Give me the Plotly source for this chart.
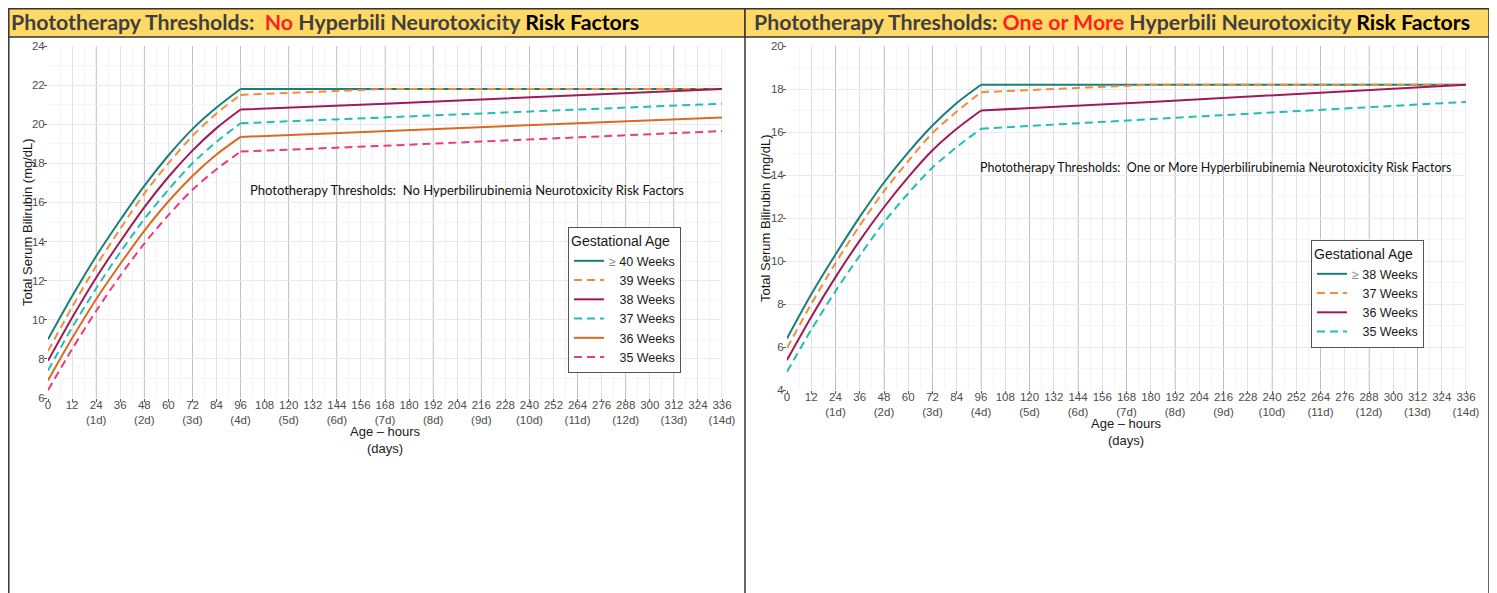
import plotly.graph_objects as go

# page body has an 8px margin; the figure is sized/shifted to compensate
OFF = 8
W, H = 1497 - OFF, 593 - OFF

# ---------------- data ----------------
left_hours = [0, 12, 24, 36, 48, 60, 72, 84, 96, 168, 336]
left_ge40 = [9.0, 11.2, 13.25, 15.1, 16.85, 18.4, 19.75, 20.85, 21.8, 21.8, 21.8]
left_w39 = [8.4, 10.65, 12.75, 14.65, 16.45, 18.0, 19.4, 20.55, 21.5, 21.8, 21.8]
left_w38 = [7.9, 10.1, 12.15, 14.0, 15.75, 17.3, 18.65, 19.8, 20.75, 21.05, 21.8]
left_w37 = [7.4, 9.6, 11.6, 13.45, 15.15, 16.65, 18.0, 19.1, 20.05, 20.35, 21.05]
left_w36 = [6.9, 9.05, 11.05, 12.85, 14.55, 16.05, 17.35, 18.45, 19.35, 19.65, 20.35]
left_w35 = [6.4, 8.5, 10.45, 12.25, 13.9, 15.35, 16.65, 17.7, 18.6, 18.9, 19.65]

right_hours = [0, 12, 24, 36, 48, 60, 72, 84, 96, 180, 336]
right_ge38 = [6.4, 8.45, 10.3, 12.05, 13.65, 15.05, 16.3, 17.35, 18.2, 18.2, 18.2]
right_w37 = [5.95, 8.0, 9.9, 11.65, 13.25, 14.65, 15.95, 16.95, 17.85, 18.2, 18.2]
right_w36 = [5.4, 7.4, 9.25, 10.95, 12.5, 13.9, 15.15, 16.15, 17.0, 17.4, 18.2]
right_w35 = [4.85, 6.8, 8.6, 10.25, 11.8, 13.15, 14.35, 15.3, 16.15, 16.6, 17.4]

GE = "<span style='color:#8A8A8A'>\u2265</span> "
FS = "\u2007\u00a0"
left_labels = [GE + "40 Weeks", FS + "39 Weeks", FS + "38 Weeks",
               FS + "37 Weeks", FS + "36 Weeks", FS + "35 Weeks"]
right_labels = [GE + "38 Weeks", FS + "37 Weeks", FS + "36 Weeks", FS + "35 Weeks"]

x_tick_hours = list(range(0, 337, 12))
x_tick_text = [f"{h}<br>({h // 24}d)" if h % 24 == 0 and h > 0 else str(h) for h in x_tick_hours]
day_hours = list(range(24, 337, 24))
KNEE = 8  # index of hour 96 in the hour lists

TEAL = "#17807A"
ORANGE_D = "#F48C3A"
MAROON = "#A01B55"
CYAN = "#22BDB7"
ORANGE_S = "#D96A22"
PINK = "#EE3A7A"

DASH = "8px,5px"
left_styles = [(TEAL, "solid"), (ORANGE_D, DASH), (MAROON, "solid"),
               (CYAN, DASH), (ORANGE_S, "solid"), (PINK, DASH)]
right_styles = [(TEAL, "solid"), (ORANGE_D, DASH), (MAROON, "solid"), (CYAN, DASH)]


def px(x):
    return (x - OFF) / W


def py(y):
    return 1 - (y - OFF) / H


fig = go.Figure()


def add_series(hours, vals, lab, col, dash, xa, ya, leg, grp):
    fig.add_trace(go.Scatter(x=hours[:KNEE + 1], y=vals[:KNEE + 1], mode="lines", name=lab,
                             line=dict(color=col, width=2, dash=dash, shape="spline", smoothing=0.8),
                             xaxis=xa, yaxis=ya, legend=leg, legendgroup=grp, hoverinfo="skip"))
    fig.add_trace(go.Scatter(x=hours[KNEE:], y=vals[KNEE:], mode="lines", name=lab,
                             line=dict(color=col, width=2, dash=dash),
                             xaxis=xa, yaxis=ya, legend=leg, legendgroup=grp, showlegend=False,
                             hoverinfo="skip"))


for i, (vals, lab, (col, dash)) in enumerate(zip(
        [left_ge40, left_w39, left_w38, left_w37, left_w36, left_w35], left_labels, left_styles)):
    add_series(left_hours, vals, lab, col, dash, "x", "y", "legend", f"L{i}")

for i, (vals, lab, (col, dash)) in enumerate(zip(
        [right_ge38, right_w37, right_w36, right_w35], right_labels, right_styles)):
    add_series(right_hours, vals, lab, col, dash, "x2", "y2", "legend2", f"R{i}")

tickfont = dict(family="Liberation Sans, Arial, sans-serif", size=11.5, color="#4D4D4D")
common_x = dict(range=[0, 336], tickvals=x_tick_hours, ticktext=x_tick_text, tickangle=0,
                showgrid=True, gridcolor="rgba(0,0,0,0.075)", gridwidth=1,
                minor=dict(dtick=6, tick0=0, showgrid=True, gridcolor="rgba(0,0,0,0.045)",
                           gridwidth=1, ticks=""),
                ticks="outside", ticklen=3, tickcolor="#555", tickfont=tickfont,
                ticklabelstandoff=-7,
                zeroline=False, showline=False, fixedrange=True, automargin=False)
common_y = dict(dtick=2, showgrid=True, gridcolor="#EBEBEB", gridwidth=1,
                minor=dict(dtick=1, showgrid=True, gridcolor="#F5F5F5", gridwidth=1, ticks=""),
                ticks="outside", ticklen=3, tickcolor="#555", tickfont=tickfont,
                ticklabelstandoff=-3,
                zeroline=False, showline=False, fixedrange=True, automargin=False)

leg_common = dict(xanchor="left", yanchor="top", bgcolor="white", bordercolor="#555", borderwidth=1,
                  font=dict(family="Liberation Sans, Arial, sans-serif", size=12.5, color="#1A1A1A"),
                  title=dict(text="Gestational Age", font=dict(size=14, color="#1A1A1A")),
                  itemwidth=30, tracegroupgap=0, groupclick="toggleitem")

fig.update_layout(
    width=W, height=H, margin=dict(l=0, r=0, t=0, b=0, pad=0, autoexpand=False),
    paper_bgcolor="white", plot_bgcolor="white",
    xaxis=dict(domain=[px(48), px(722)], anchor="y", **common_x),
    yaxis=dict(domain=[py(398), py(46)], anchor="x", range=[6, 24], tick0=6, **common_y),
    xaxis2=dict(domain=[px(787), px(1466)], anchor="y2", **common_x),
    yaxis2=dict(domain=[py(390), py(46)], anchor="x2", range=[4, 20], tick0=4, **common_y),
    legend=dict(x=px(568), y=py(227), **leg_common),
    legend2=dict(x=px(1311), y=py(240), **leg_common),
)

shapes = []
# slightly darker gridlines at each full day
for h in day_hours:
    for xr, yr in [("x", "y domain"), ("x2", "y2 domain")]:
        shapes.append(dict(type="line", xref=xr, yref=yr, x0=h, x1=h, y0=0, y1=1,
                           line=dict(color="#DADADA", width=1), layer="below"))
for x0, x1 in [(8.8, 745), (745, 1489)]:
    shapes.append(dict(type="rect", xref="paper", yref="paper", x0=px(x0), x1=px(x1), y0=py(37), y1=py(8.8),
                       fillcolor="#FFD966", line=dict(color="#333333", width=1.5), layer="above"))
for xv in [8.8, 745, 1489]:
    shapes.append(dict(type="line", xref="paper", yref="paper", x0=px(xv), x1=px(xv), y0=py(37), y1=0,
                       line=dict(color="#333333", width=1.5), layer="above"))
fig.update_layout(shapes=shapes)

NB = "\u00a0"
hdr_font = dict(family="Lato, Open Sans, sans-serif", size=21.3)
left_title = ("<b><span style='color:#3F3F3F'>Phototherapy Thresholds:" + NB + NB + "</span>"
              "<span style='color:#FF1F1F'>No</span>"
              "<span style='color:#3F3F3F'> Hyperbili Neurotoxicity </span>"
              "<span style='color:#000000'>Risk Factors</span></b>")
right_title = ("<b><span style='color:#3F3F3F'>Phototherapy Thresholds: </span>"
               "<span style='color:#FF1F1F'>One or More</span>"
               "<span style='color:#3F3F3F'> Hyperbili Neurotoxicity </span>"
               "<span style='color:#000000'>Risk Factors</span></b>")

annos = [
    dict(text=left_title, x=px(9), y=py(21.5), xref="paper", yref="paper",
         xanchor="left", yanchor="middle", showarrow=False, font=hdr_font),
    dict(text=right_title, x=px(752), y=py(21.5), xref="paper", yref="paper",
         xanchor="left", yanchor="middle", showarrow=False, font=hdr_font),
    dict(text="Phototherapy Thresholds:" + NB + NB + "No Hyperbilirubinemia Neurotoxicity Risk Factors",
         x=209, y=16.65, xref="x", yref="y", showarrow=False,
         font=dict(family="Lato, sans-serif", size=13, color="#111")),
    dict(text="Phototherapy Thresholds:" + NB + NB + "One or More Hyperbilirubinemia Neurotoxicity Risk Factors",
         x=212, y=14.33, xref="x2", yref="y2", showarrow=False,
         font=dict(family="Lato, sans-serif", size=12.5, color="#111")),
]
ax_font = dict(family="Liberation Sans, Arial, sans-serif", size=13, color="#1A1A1A")
annos += [
    dict(text="Total Serum Bilirubin (mg/dL)", textangle=-90, x=px(27), y=py(222),
         xanchor="center", yanchor="middle",
         xref="paper", yref="paper", showarrow=False, font=ax_font),
    dict(text="Total Serum Bilirubin (mg/dL)", textangle=-90, x=px(765), y=py(218),
         xanchor="center", yanchor="middle",
         xref="paper", yref="paper", showarrow=False, font=ax_font),
    dict(text="Age \u2013 hours<br>(days)", x=px(385), y=py(440), xanchor="center", yanchor="middle",
         xref="paper", yref="paper", showarrow=False, font=ax_font),
    dict(text="Age \u2013 hours<br>(days)", x=px(1126), y=py(432), xanchor="center", yanchor="middle",
         xref="paper", yref="paper", showarrow=False, font=ax_font),
]
fig.update_layout(annotations=annos)

fig.write_html("out.html")
